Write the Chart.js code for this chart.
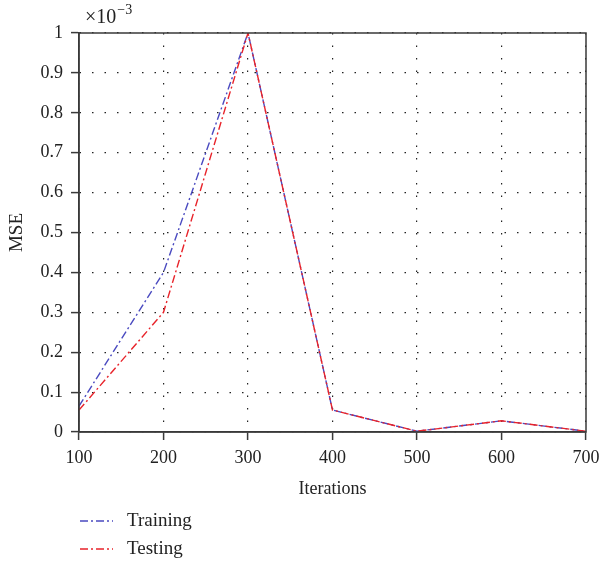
<!DOCTYPE html>
<html>
<head>
<meta charset="utf-8">
<script src="https://cdn.jsdelivr.net/npm/chart.js@4/dist/chart.umd.min.js"></script>
<style>
  html, body { margin: 0; padding: 0; background: #fff; }
  #wrap { width: 601px; height: 564px; position: relative; }
</style>
</head>
<body>
<div id="wrap"><canvas id="c" width="601" height="564"></canvas></div>
<script>
// Iteration counts on the x axis
const iterations = [100, 200, 300, 400, 500, 600, 700];
// Mean squared error, in units of 1e-3
const trainingMSE = [0.065, 0.40, 1.00, 0.055, 0.002, 0.028, 0.002];
const testingMSE  = [0.055, 0.30, 1.00, 0.055, 0.002, 0.028, 0.002];
const yTicks = [0, 0.1, 0.2, 0.3, 0.4, 0.5, 0.6, 0.7, 0.8, 0.9, 1];

const FONT = '"Liberation Serif", "DejaVu Serif", serif';
const BLUE = '#4a4ac0';
const RED = '#e8232a';
const DASH_DOT = [8, 3, 2, 3];

const pts = (ys) => iterations.map((x, i) => ({ x, y: ys[i] }));

// Frame, exponent label and a stacked legend below the axes
const decorations = {
  id: 'decorations',
  afterDraw(chart) {
    const { ctx, chartArea: a } = chart;
    ctx.save();
    ctx.strokeStyle = '#3a3a3a';
    ctx.lineWidth = 1.5;
    ctx.setLineDash([]);
    ctx.strokeRect(a.left, a.top, a.right - a.left, a.bottom - a.top);

    ctx.fillStyle = '#222';
    ctx.textBaseline = 'alphabetic';
    ctx.textAlign = 'left';
    ctx.font = '20px ' + FONT;
    ctx.fillText('\u00d710', a.left + 6, a.top - 10);
    const w = ctx.measureText('\u00d710').width;
    ctx.font = '14px ' + FONT;
    ctx.fillText('\u22123', a.left + 6 + w + 1, a.top - 19);

    const items = chart.data.datasets;
    items.forEach((ds, i) => {
      const y = 521 + i * 28;
      ctx.strokeStyle = ds.borderColor;
      ctx.lineWidth = 1.4;
      ctx.setLineDash(ds.borderDash);
      ctx.beginPath();
      ctx.moveTo(80, y);
      ctx.lineTo(113, y);
      ctx.stroke();
      ctx.setLineDash([]);
      ctx.fillStyle = '#222';
      ctx.font = '19px ' + FONT;
      ctx.textBaseline = 'middle';
      ctx.fillText(ds.label, 127, y);
    });
    ctx.restore();
  }
};

new Chart(document.getElementById('c'), {
  type: 'line',
  data: {
    datasets: [
      { label: 'Training', data: pts(trainingMSE), borderColor: BLUE, borderDash: DASH_DOT,
        borderWidth: 1.4, pointRadius: 0, tension: 0, order: 1, fill: false },
      { label: 'Testing', data: pts(testingMSE), borderColor: RED, borderDash: DASH_DOT,
        borderWidth: 1.4, pointRadius: 0, tension: 0, order: 0, fill: false }
    ]
  },
  options: {
    responsive: false,
    animation: false,
    layout: { padding: { left: 0, top: 33, right: 15, bottom: 60 } },
    plugins: { legend: { display: false }, tooltip: { enabled: false } },
    scales: {
      x: {
        type: 'linear', min: 100, max: 700,
        afterBuildTicks: (s) => { s.ticks = iterations.map(v => ({ value: v })); },
        afterFit: (s) => { s.height = 72; s.paddingLeft = 0; s.paddingRight = 0; },
        ticks: { color: '#222', font: { family: FONT, size: 18 }, padding: 7 },
        grid: { color: '#222', lineWidth: 1.2, tickLength: 8, tickColor: '#3a3a3a', tickWidth: 1.5 },
        border: { display: true, color: '#3a3a3a', width: 1.5, dash: [1.5, 11] },
        title: { display: true, text: 'Iterations', color: '#222', font: { family: FONT, size: 18 }, padding: { top: 4 } }
      },
      y: {
        type: 'linear', min: 0, max: 1,
        afterBuildTicks: (s) => { s.ticks = yTicks.map(v => ({ value: v })); },
        afterFit: (s) => { s.width = 79; s.paddingTop = 0; s.paddingBottom = 0; },
        ticks: { color: '#222', font: { family: FONT, size: 18 }, padding: 8,
                 callback: (v) => String(Math.round(v * 10) / 10) },
        grid: { color: '#222', lineWidth: 1.2, tickLength: 8, tickColor: '#3a3a3a', tickWidth: 1.5 },
        border: { display: true, color: '#3a3a3a', width: 1.5, dash: [1.5, 11] },
        title: { display: true, text: 'MSE', color: '#222', font: { family: FONT, size: 19 }, padding: { top: 6 } }
      }
    }
  },
  plugins: [decorations]
});
</script>
</body>
</html>
